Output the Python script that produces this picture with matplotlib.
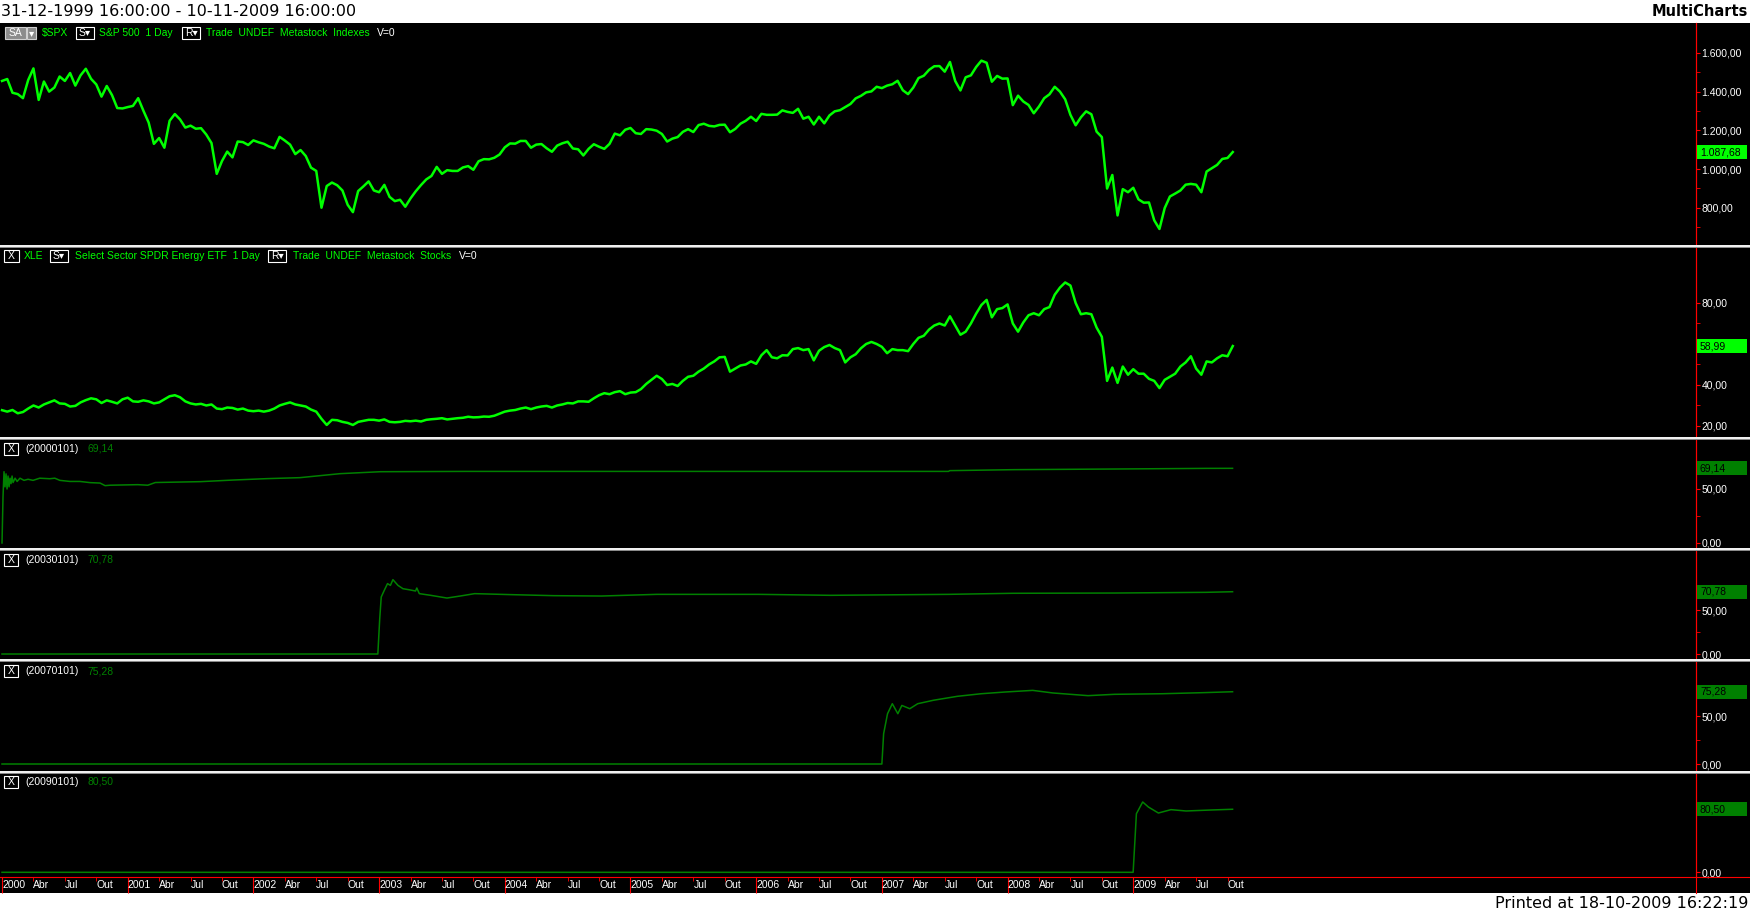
import numpy as np
import matplotlib
matplotlib.use("Agg")
import matplotlib.pyplot as plt
from matplotlib.patches import Rectangle
from matplotlib.lines import Line2D
from matplotlib.transforms import IdentityTransform

plt.rcParams['font.family'] = ['Liberation Sans', 'DejaVu Sans']

# S&P 500: 3-jan-2000, then mid / end of every month, last bar 16-out-2009
spx = [1455,
       1465, 1394, 1387, 1366, 1460, 1520, 1357, 1452, 1400, 1421, 1478, 1455,
       1496, 1431, 1484, 1518, 1466, 1437, 1374, 1429, 1382, 1315, 1313, 1320,
       1326, 1366, 1301, 1240, 1130, 1160, 1110, 1249, 1284, 1256, 1214, 1224,
       1208, 1211, 1178, 1134, 975, 1041, 1090, 1060, 1142, 1139, 1124, 1148,
       1138, 1130, 1116, 1107, 1166, 1147, 1126, 1077, 1098, 1067, 1007, 990,
       800, 912, 930, 916, 889, 815, 777, 886, 910, 936, 889, 880,
       918, 856, 834, 841, 805, 848, 885, 917, 946, 964, 1011, 975,
       994, 990, 990, 1008, 1015, 996, 1040, 1051, 1050, 1058, 1075, 1112,
       1132, 1131, 1145, 1145, 1110, 1126, 1129, 1107, 1089, 1121, 1133, 1141,
       1106, 1102, 1070, 1104, 1128, 1115, 1104, 1130, 1183, 1174, 1203, 1212,
       1185, 1181, 1206, 1204, 1198, 1181, 1142, 1157, 1165, 1192, 1206, 1191,
       1227, 1234, 1223, 1220, 1228, 1229, 1190, 1207, 1234, 1249, 1270, 1248,
       1285, 1280, 1280, 1281, 1303, 1295, 1290, 1311, 1260, 1270, 1230, 1270,
       1236, 1277, 1298, 1304, 1320, 1336, 1365, 1378, 1396, 1401, 1425, 1418,
       1431, 1438, 1456, 1407, 1387, 1421, 1470, 1482, 1512, 1531, 1532, 1503,
       1553, 1455, 1406, 1474, 1484, 1527, 1560, 1549, 1451, 1481, 1467, 1468,
       1330, 1379, 1349, 1331, 1288, 1323, 1366, 1386, 1425, 1400, 1360, 1280,
       1226, 1267, 1298, 1283, 1193, 1165, 899, 969, 760, 896, 880, 903,
       843, 826, 827, 735, 690, 798, 858, 873, 889, 919, 923, 919,
       880, 987, 1004, 1021, 1052, 1057,
       1087.68]

xle = [27.7,
       27.0, 27.8, 26.2, 26.8, 28.5, 30.0, 29.0, 30.5, 31.5, 32.5, 31.0, 30.8,
       29.5, 29.8, 31.5, 32.6, 33.5, 33.0, 31.2, 32.5, 31.8, 31.0, 33.0, 33.8,
       32.0, 31.8, 32.5, 32.0, 31.0, 31.5, 33.0, 34.5, 35.0, 34.0, 32.0, 31.0,
       30.5, 30.8, 30.0, 30.5, 28.5, 28.2, 29.0, 28.8, 28.0, 28.5, 27.5, 27.2,
       27.5, 27.0, 27.5, 28.5, 30.0, 30.8, 31.5, 30.5, 30.0, 29.5, 28.0, 27.0,
       23.5, 20.5, 23.0, 22.8, 22.0, 21.5, 20.5, 22.0, 22.5, 23.0, 23.0, 22.6,
       23.2, 22.0, 21.8, 22.0, 22.5, 22.3, 22.6, 22.2, 23.0, 23.3, 23.5, 23.8,
       23.2, 23.5, 23.8, 24.0, 24.5, 24.2, 24.3, 24.6, 24.5, 25.0, 26.0, 27.0,
       27.5, 27.8, 28.5, 29.0, 28.2, 29.0, 29.5, 29.8, 29.0, 30.0, 30.5, 31.2,
       31.0, 32.0, 32.0, 31.8, 33.5, 35.0, 36.0, 35.5, 36.5, 37.0, 35.5, 36.3,
       36.5, 38.0, 40.5, 42.5, 44.5, 42.9, 40.0, 40.5, 39.5, 42.0, 44.0, 44.5,
       46.5, 48.0, 50.0, 51.5, 53.5, 53.7, 46.5, 48.0, 49.5, 50.0, 51.5, 50.3,
       54.5, 57.0, 53.5, 53.0, 54.5, 54.4, 57.5, 58.0, 57.0, 57.5, 52.0, 56.7,
       58.5, 59.5, 58.0, 57.0, 51.0, 53.5, 55.0, 57.9, 60.0, 61.0, 60.0, 58.6,
       55.5, 57.5, 57.0, 57.0, 56.5, 60.0, 63.0, 64.0, 67.0, 69.0, 70.0, 69.0,
       73.5, 69.0, 64.5, 66.0, 70.0, 74.8, 79.0, 81.5, 73.0, 77.0, 77.5, 79.3,
       70.0, 66.0, 70.5, 74.0, 75.0, 74.0, 77.0, 78.0, 84.0, 87.5, 90.0, 88.5,
       80.0, 74.5, 75.0, 74.5, 68.0, 63.5, 42.0, 48.5, 41.0, 49.0, 45.0, 47.7,
       45.5, 45.5, 43.0, 42.0, 38.5, 42.5, 44.0, 45.5, 49.0, 51.0, 54.0, 48.0,
       45.0, 51.5, 51.0, 53.0, 54.5, 54.0,
       58.99]

# indicadores (data em anos, valor)
ind00_t = [2000.000, 2000.008, 2000.016, 2000.024, 2000.032, 2000.040, 2000.048,
           2000.056, 2000.064, 2000.072, 2000.080, 2000.088, 2000.104, 2000.120,
           2000.143, 2000.175, 2000.207, 2000.247, 2000.300, 2000.380, 2000.420,
           2000.460, 2000.540, 2000.620, 2000.700, 2000.780, 2000.820, 2000.860,
           2001.080, 2001.160, 2001.220, 2001.310, 2001.580, 2001.840, 2002.110,
           2002.370, 2002.690, 2003.010, 2003.700, 2007.530, 2007.540, 2008.050,
           2008.850, 2009.580, 2009.790]
ind00_v = [0, 43, 66, 52, 64, 50, 62, 52, 60, 55, 62, 56, 60, 57, 60, 58, 59, 58,
           60, 59.5, 60, 58, 57, 57, 55.9, 55.5, 53.1, 53.5, 54, 53.5, 56, 56.2,
           56.8, 58.3, 59.6, 60.5, 64.2, 66.0, 66.3, 66.3, 67.0, 67.9, 68.5, 69.1,
           69.14]

ind03_t = [2000.0, 2002.99, 2003.005, 2003.017, 2003.04, 2003.067, 2003.09, 2003.11,
           2003.15, 2003.19, 2003.24, 2003.29, 2003.30, 2003.32, 2003.41, 2003.54,
           2003.65, 2003.76, 2004.07, 2004.39, 2004.77, 2005.21, 2006.02, 2006.59,
           2007.53, 2008.04, 2008.85, 2009.58, 2009.79]
ind03_v = [0, 0, 40, 64.8, 72, 80, 78, 84.5, 78, 74.2, 73, 71.6, 75, 68.6, 66.7,
           63.6, 66, 68.6, 67.4, 66.3, 65.9, 67.8, 67.8, 66.7, 67.8, 69.0, 69.3,
           70.1, 70.78]

ind07_t = [2000.0, 2007.0, 2007.014, 2007.045, 2007.083, 2007.127, 2007.159,
           2007.222, 2007.285, 2007.41, 2007.60, 2007.79, 2007.98, 2008.20,
           2008.36, 2008.64, 2008.85, 2009.23, 2009.55, 2009.79]
ind07_v = [0, 0, 31.6, 52.4, 62.8, 52.4, 61, 57.6, 62.8, 66.4, 70.5, 73.2, 75.0,
           76.7, 74.0, 71.2, 72.6, 73.2, 74.3, 75.28]

ind09_t = [2000.0, 2008.999, 2009.025, 2009.075, 2009.12, 2009.20, 2009.30,
           2009.42, 2009.61, 2009.79]
ind09_v = [0, 0, 74.8, 89.8, 83.4, 75.7, 80.0, 78.3, 79.5, 80.5]

years = list(range(2000, 2010))
months = ['Abr', 'Jul', 'Out']

W, H = 1750, 915
X0, X1 = 1999.984, 2013.477
GREEN = '#00ff00'
DKGREEN = '#008000'


def fx(x):
    return x / W


def fy(y):
    return 1 - y / H


def eu(v):
    s = f"{v:,.2f}"
    return s.replace(',', '#').replace('.', ',').replace('#', '.')


fig = plt.figure(figsize=(W / 100, H / 100), dpi=100, facecolor='white')
fig.add_artist(Rectangle((0, fy(893)), 1, (893 - 23) / H, transform=fig.transFigure,
                         fc='black', ec='none', zorder=-10))


def panel(top, bot, ylim, major, minor):
    ax = fig.add_axes([0, fy(bot), 1696 / W, (bot - top) / H])
    ax.set_facecolor('black')
    ax.set_xlim(X0, X1)
    ax.set_ylim(*ylim)
    for s in ['top', 'left', 'bottom']:
        ax.spines[s].set_visible(False)
    ax.spines['right'].set_color('red')
    ax.yaxis.tick_right()
    ax.set_yticks(major)
    ax.set_yticklabels([eu(v) for v in major])
    ax.set_yticks(minor, minor=True)
    ax.tick_params(axis='y', which='both', direction='out', colors='red',
                   labelcolor='white', labelsize=7.5, length=3, pad=1)
    ax.set_xticks([])
    return ax


ax1 = panel(23, 243, (617.6, 1754.5), [800, 1000, 1200, 1400, 1600],
            [700, 900, 1100, 1300, 1500])
ax2 = panel(247, 435, (15.6, 107.3), [20, 40, 60, 80], [30, 50, 70])
ax3 = panel(439, 546, (-2.8, 96.3), [0, 50], [25])
ax4 = panel(550, 657, (-3.4, 118.2), [0, 50], [25])
ax5 = panel(661, 769, (-5.2, 107.3), [0, 50], [25])
ax6 = panel(773, 877, (-6.0, 126.8), [0], [])

spx_t = 2000 + np.arange(len(spx)) / 24
xle_t = 2000 + np.arange(len(xle)) / 24
ax1.plot(spx_t, spx, color=GREEN, lw=1.8)
ax2.plot(xle_t, xle, color=GREEN, lw=1.8)
ax3.plot(ind00_t, ind00_v, color=DKGREEN, lw=1.1)
ax4.plot(ind03_t, ind03_v, color=DKGREEN, lw=1.1)
ax5.plot(ind07_t, ind07_v, color=DKGREEN, lw=1.1)
ax6.plot(ind09_t, ind09_v, color=DKGREEN, lw=1.1)

# eixo de tempo
ax6.spines['bottom'].set_visible(True)
ax6.spines['bottom'].set_color('red')
ax6.set_xticks(years, labels=[str(y) for y in years])
qpos = [y + q for y in years for q in (0.25, 0.5, 0.75)]
ax6.set_xticks(qpos, labels=months * len(years), minor=True)
ax6.tick_params(axis='x', which='major', direction='out', length=11.5, color='red',
                labelcolor='white', labelsize=7.5, pad=-9.5)
ax6.tick_params(axis='x', which='minor', direction='out', length=2.9, color='red',
                labelcolor='white', labelsize=7.5, pad=-0.9)
for lbl in ax6.get_xticklabels(which='both'):
    lbl.set_ha('left')

# linhas vermelhas e separadores
fig.add_artist(Line2D([fx(1696), fx(1696)], [fy(23), fy(893)], color='red', lw=0.8,
                      transform=fig.transFigure, zorder=5))
fig.add_artist(Line2D([fx(1696), 1], [fy(877), fy(877)], color='red', lw=0.8,
                      transform=fig.transFigure, zorder=5))
for sy in [245, 437, 548, 659, 771]:
    fig.add_artist(Rectangle((0, fy(sy + 2)), 1, 2 / H, transform=fig.transFigure,
                             fc='#f0f0f0', ec='none', zorder=6))
    fig.add_artist(Rectangle((0, fy(sy + 3)), 1, 1.2 / H, transform=fig.transFigure,
                             fc='#8a8a8a', ec='none', zorder=6))


# caixas de valor
def value_box(ax, v, fc):
    yd = ax.transData.transform((X0, v))[1]
    fig.add_artist(Rectangle((1697, yd - 7), 50, 14, transform=IdentityTransform(),
                             fc=fc, ec='none', zorder=7))
    fig.text(fx(1700), yd / H, eu(v), color='black', fontsize=7.5,
             va='center', ha='left', zorder=8)


value_box(ax1, spx[-1], GREEN)
value_box(ax2, xle[-1], GREEN)
value_box(ax3, ind00_v[-1], DKGREEN)
value_box(ax4, ind03_v[-1], DKGREEN)
value_box(ax5, ind07_v[-1], DKGREEN)
value_box(ax6, ind09_v[-1], DKGREEN)


# cabecalhos
def htext(x, y, s, color):
    fig.text(fx(x), fy(y), s, color=color, fontsize=7.5, va='center', ha='left')


def hbox(x0, x1, y, s, fc='black', ec='white', tc='white'):
    fig.add_artist(Rectangle((fx(x0), fy(y + 6)), (x1 - x0) / W, 12 / H,
                             transform=fig.transFigure, fc=fc, ec=ec, lw=0.8, zorder=4))
    fig.text(fx((x0 + x1) / 2), fy(y), s, color=tc, fontsize=7.5, va='center',
             ha='center', zorder=5)


y = 33
hbox(5, 26, y, 'SA', fc='#8c8c8c', ec='#d0d0d0')
hbox(27, 36, y, '▾', fc='#8c8c8c', ec='#d0d0d0')
htext(42, y, r'\$SPX', GREEN)
hbox(76, 94, y, 'S▾')
htext(99, y, 'S&P 500  1 Day', GREEN)
hbox(182, 200, y, 'R▾')
htext(206, y, 'Trade  UNDEF  Metastock  Indexes', GREEN)
htext(377, y, 'V=0', 'white')

y = 256
hbox(4, 19, y, 'X')
htext(24, y, 'XLE', GREEN)
hbox(50, 68, y, 'S▾')
htext(75, y, 'Select Sector SPDR Energy ETF  1 Day', GREEN)
hbox(268, 286, y, 'R▾')
htext(293, y, 'Trade  UNDEF  Metastock  Stocks', GREEN)
htext(459, y, 'V=0', 'white')

for y, name, val in [(449, '(20000101)', ind00_v[-1]), (560, '(20030101)', ind03_v[-1]),
                     (671, '(20070101)', ind07_v[-1]), (782, '(20090101)', ind09_v[-1])]:
    hbox(4, 18, y, 'X')
    htext(25, y, name, 'white')
    htext(87, y, eu(val), DKGREEN)

fig.text(fx(1), fy(11.5), '31-12-1999 16:00:00 - 10-11-2009 16:00:00', color='black',
         fontsize=11.5, family='DejaVu Sans', va='center', ha='left')
fig.text(fx(1748), fy(11.5), 'MultiCharts', color='black', fontsize=10.5,
         family='DejaVu Sans', weight='bold', va='center', ha='right')
fig.text(fx(1748), fy(904), 'Printed at 18-10-2009 16:22:19', color='black',
         fontsize=11.5, family='DejaVu Sans', va='center', ha='right')

fig.savefig('out.png', dpi=100, facecolor='white')
